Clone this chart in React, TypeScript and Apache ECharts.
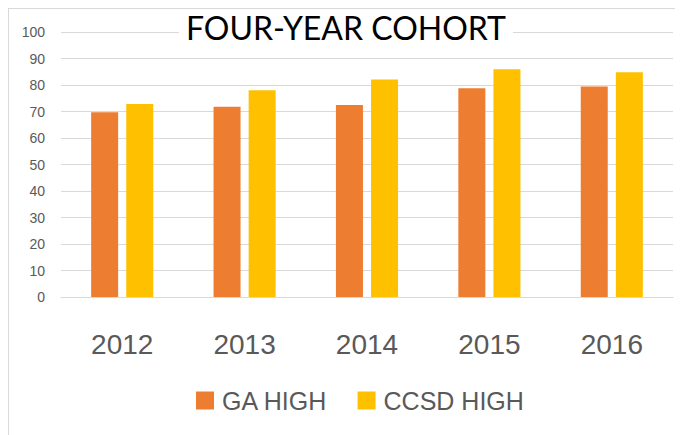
import React, { useEffect, useRef } from "react";
import * as echarts from "echarts";

const categories = ["2012", "2013", "2014", "2015", "2016"];
const gaHigh = [69.7, 71.8, 72.5, 78.8, 79.4];
const ccsdHigh = [72.8, 78.0, 82.1, 85.9, 84.8];
const seriesNames = ["GA HIGH", "CCSD HIGH"];
const titleText = "FOUR-YEAR COHORT";

export default function App() {
  const ref = useRef<HTMLDivElement>(null);
  useEffect(() => {
    if (!ref.current) return;
    const chart = echarts.init(ref.current, undefined, { renderer: "svg" });
    const sans = "'Liberation Sans', Arial, sans-serif";
    chart.setOption({
      animation: false,
      backgroundColor: "#ffffff",
      title: {
        text: titleText,
        left: "center",
        top: 1,
        padding: [0, 7, 0, 7],
        backgroundColor: "#ffffff",
        textStyle: {
          fontFamily: "Lato",
          fontSize: 32,
          lineHeight: 34,
          fontWeight: "normal",
          color: "#000000",
        },
        z: 10,
      },
      grid: { left: 52, right: 10, top: 23, bottom: 138, containLabel: false },
      legend: {
        data: seriesNames,
        bottom: 17,
        left: 182,
        itemWidth: 18,
        itemHeight: 18,
        itemGap: 30,
        icon: "rect",
        textStyle: { fontFamily: sans, fontSize: 25, color: "#595959", padding: [0, 0, 0, 3] },
      },
      xAxis: {
        type: "category",
        data: categories,
        axisLine: { lineStyle: { color: "#D9D9D9", width: 1 } },
        axisTick: { show: false },
        axisLabel: { fontFamily: sans, fontSize: 28, color: "#595959", margin: 33 },
      },
      yAxis: {
        type: "value",
        min: 0,
        max: 100,
        interval: 10,
        axisLine: { show: false },
        axisTick: { show: false },
        splitLine: { lineStyle: { color: "#D9D9D9", width: 1 } },
        axisLabel: { fontFamily: sans, fontSize: 14, color: "#595959", margin: 16 },
      },
      series: [
        {
          name: seriesNames[0],
          type: "bar",
          data: gaHigh,
          barWidth: 27,
          barGap: "30%",
          itemStyle: { color: "#ED7D31" },
        },
        {
          name: seriesNames[1],
          type: "bar",
          data: ccsdHigh,
          barWidth: 27,
          itemStyle: { color: "#FFC000" },
        },
      ],
    });
    return () => chart.dispose();
  }, []);
  return (
    <div
      style={{
        width: 675,
        height: 427,
        boxSizing: "border-box",
        borderTop: "1px solid #D9D9D9",
        borderLeft: "1px solid #D9D9D9",
      }}
    >
      <div ref={ref} style={{ width: 674, height: 426 }} />
    </div>
  );
}
